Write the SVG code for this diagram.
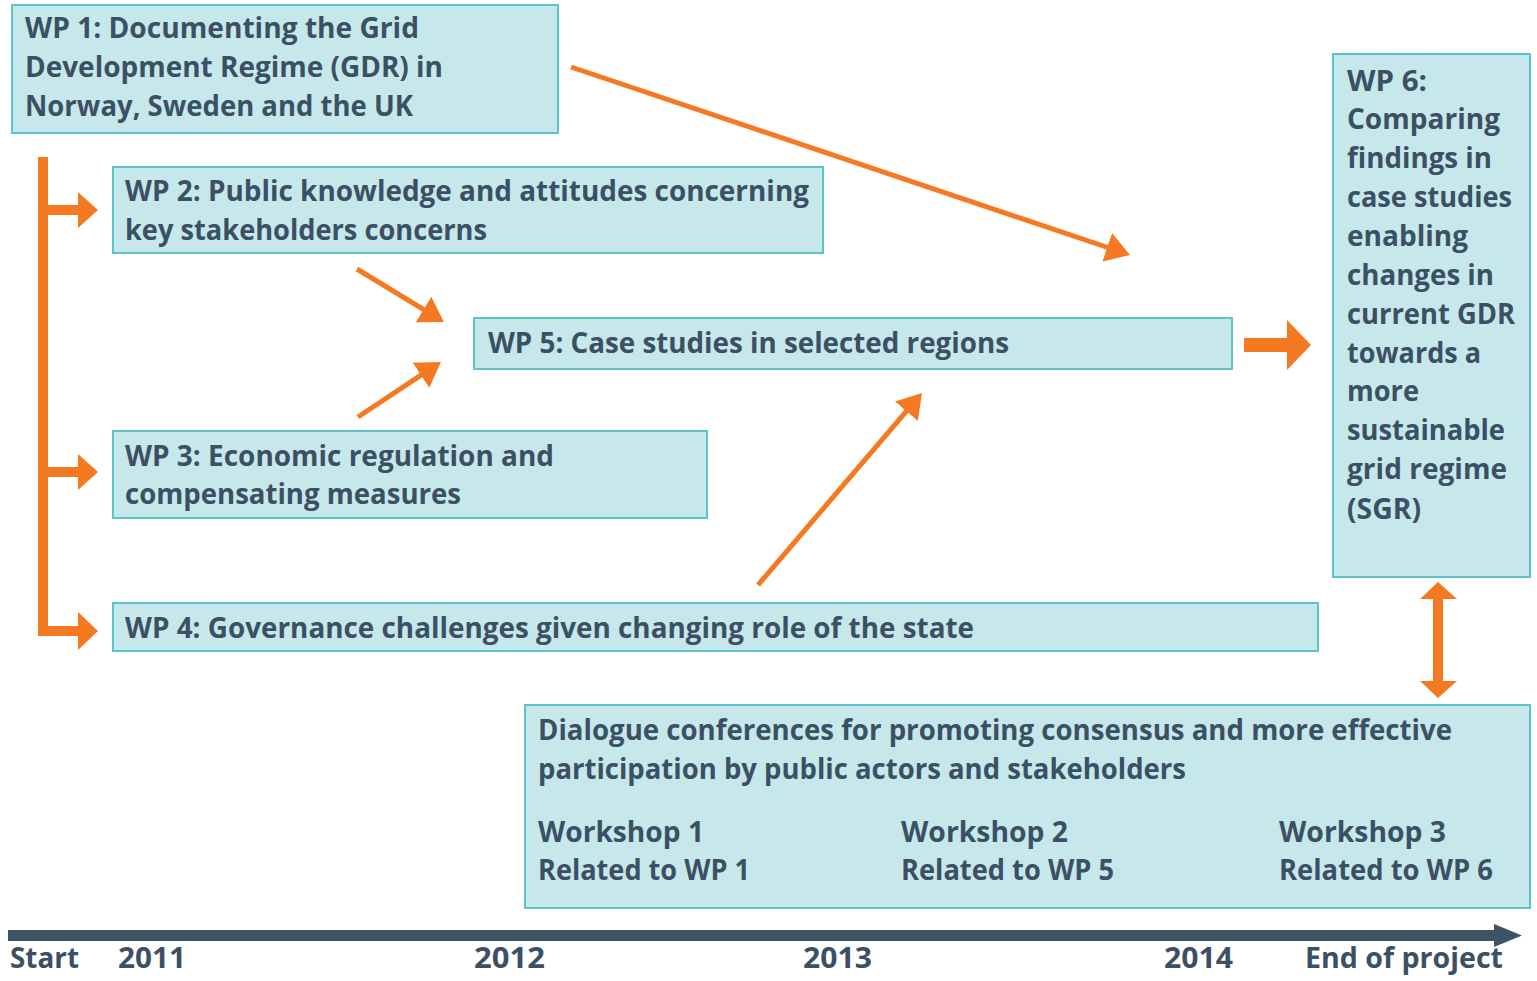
<svg xmlns="http://www.w3.org/2000/svg" width="1537" height="981" viewBox="0 0 1537 981">
<style>
.box{fill:#c7e8ea;stroke:#5cc4ca;stroke-width:2}
.t{font-family:"Open Sans","Noto Sans",sans-serif;font-weight:700;font-size:28px;fill:#3c5065}
.c{font-family:"Open Sans","Noto Sans",sans-serif;font-weight:700;font-size:28px;fill:#3c5065}
.o{fill:#f47920}
.ln{stroke:#f47920;stroke-width:5;fill:none;marker-end:url(#ah)}
</style>
<defs>
<marker id="ah" markerUnits="userSpaceOnUse" markerWidth="24" markerHeight="30" refX="10" refY="15" orient="auto" viewBox="0 0 24 30">
<path d="M0,0 L24,15 L0,30 Z" fill="#f47920"/>
</marker>
</defs>
<rect width="1537" height="981" fill="#ffffff"/>

<g id="wp1">
<rect class="box" x="12" y="5" width="546" height="128"/>
<text class="t" x="25" y="38" textLength="394" lengthAdjust="spacingAndGlyphs">WP 1: Documenting the Grid</text>
<text class="t" x="25" y="77" textLength="418" lengthAdjust="spacingAndGlyphs">Development Regime (GDR) in</text>
<text class="t" x="25" y="116" textLength="388" lengthAdjust="spacingAndGlyphs">Norway, Sweden and the UK</text>
</g>

<g id="wp2">
<rect class="box" x="113" y="167" width="710" height="86"/>
<text class="t" x="125" y="201" textLength="684" lengthAdjust="spacingAndGlyphs">WP 2: Public knowledge and attitudes concerning</text>
<text class="t" x="125" y="240" textLength="362" lengthAdjust="spacingAndGlyphs">key stakeholders concerns</text>
</g>

<g id="wp5">
<rect class="box" x="474" y="318" width="758" height="51"/>
<text class="t" x="488" y="353" textLength="521" lengthAdjust="spacingAndGlyphs">WP 5: Case studies in selected regions</text>
</g>

<g id="wp3">
<rect class="box" x="113" y="431" width="594" height="87"/>
<text class="t" x="125" y="466" textLength="429" lengthAdjust="spacingAndGlyphs">WP 3: Economic regulation and</text>
<text class="t" x="125" y="504" textLength="336" lengthAdjust="spacingAndGlyphs">compensating measures</text>
</g>

<g id="wp4">
<rect class="box" x="113" y="603" width="1205" height="48"/>
<text class="t" x="125" y="638" textLength="849" lengthAdjust="spacingAndGlyphs">WP 4: Governance challenges given changing role of the state</text>
</g>

<g id="wp6">
<rect class="box" x="1333" y="54" width="197" height="523"/>
<text class="t" x="1347" y="91" textLength="80" lengthAdjust="spacingAndGlyphs">WP 6:</text>
<text class="t" x="1347" y="129" textLength="153" lengthAdjust="spacingAndGlyphs">Comparing</text>
<text class="t" x="1347" y="168" textLength="145" lengthAdjust="spacingAndGlyphs">findings in</text>
<text class="t" x="1347" y="207" textLength="165" lengthAdjust="spacingAndGlyphs">case studies</text>
<text class="t" x="1347" y="246" textLength="121" lengthAdjust="spacingAndGlyphs">enabling</text>
<text class="t" x="1347" y="285" textLength="147" lengthAdjust="spacingAndGlyphs">changes in</text>
<text class="t" x="1347" y="324" textLength="168" lengthAdjust="spacingAndGlyphs">current GDR</text>
<text class="t" x="1347" y="363" textLength="134" lengthAdjust="spacingAndGlyphs">towards a</text>
<text class="t" x="1347" y="401" textLength="72" lengthAdjust="spacingAndGlyphs">more</text>
<text class="t" x="1347" y="440" textLength="158" lengthAdjust="spacingAndGlyphs">sustainable</text>
<text class="t" x="1347" y="479" textLength="160" lengthAdjust="spacingAndGlyphs">grid regime</text>
<text class="t" x="1347" y="519" textLength="74" lengthAdjust="spacingAndGlyphs">(SGR)</text>
</g>

<g id="dialogue">
<rect class="box" x="525" y="705" width="1005" height="203"/>
<text class="c" x="538" y="740" textLength="914" lengthAdjust="spacingAndGlyphs">Dialogue conferences for promoting consensus and more effective</text>
<text class="c" x="538" y="779" textLength="648" lengthAdjust="spacingAndGlyphs">participation by public actors and stakeholders</text>
<text class="c" x="538" y="842" textLength="166" lengthAdjust="spacingAndGlyphs">Workshop 1</text>
<text class="c" x="538" y="880" textLength="212" lengthAdjust="spacingAndGlyphs">Related to WP 1</text>
<text class="c" x="901" y="842" textLength="167" lengthAdjust="spacingAndGlyphs">Workshop 2</text>
<text class="c" x="901" y="880" textLength="213" lengthAdjust="spacingAndGlyphs">Related to WP 5</text>
<text class="c" x="1279" y="842" textLength="167" lengthAdjust="spacingAndGlyphs">Workshop 3</text>
<text class="c" x="1279" y="880" textLength="214" lengthAdjust="spacingAndGlyphs">Related to WP 6</text>
</g>

<g id="timeline">
<rect x="8" y="930" width="1490" height="11" fill="#3d5366"/>
<polygon points="1494,924 1522,935.5 1494,947" fill="#3d5366"/>
<text class="c" x="10" y="968" textLength="69" lengthAdjust="spacingAndGlyphs">Start</text>
<text class="c" x="118" y="968" textLength="68" lengthAdjust="spacingAndGlyphs">2011</text>
<text class="c" x="474" y="968" textLength="71" lengthAdjust="spacingAndGlyphs">2012</text>
<text class="c" x="803" y="968" textLength="69" lengthAdjust="spacingAndGlyphs">2013</text>
<text class="c" x="1164" y="968" textLength="69" lengthAdjust="spacingAndGlyphs">2014</text>
<text class="c" x="1305" y="968" textLength="198" lengthAdjust="spacingAndGlyphs">End of project</text>
</g>

<g id="connectors">
<rect class="o" x="38" y="157" width="10" height="479"/>
<rect class="o" x="38" y="205" width="42" height="10"/>
<polygon class="o" points="78,192 98,210 78,228"/>
<rect class="o" x="38" y="467" width="42" height="10"/>
<polygon class="o" points="78,454 98,472 78,490"/>
<rect class="o" x="38" y="626" width="42" height="10"/>
<polygon class="o" points="78,612 98,631 78,650"/>
<line class="ln" x1="571" y1="67" x2="1116.7" y2="250.5"/>
<line class="ln" x1="357" y1="269" x2="432" y2="314.7"/>
<line class="ln" x1="358" y1="417" x2="429.3" y2="369.7"/>
<line class="ln" x1="758" y1="585" x2="912.9" y2="403.6"/>
<polygon class="o" points="1244,338 1287,338 1287,320 1311,345 1287,370 1287,352 1244,352"/>
<polygon class="o" points="1438,582 1457,599 1443,599 1443,681 1457,681 1438,698 1420,681 1433,681 1433,599 1420,599"/>
</g>
</svg>
